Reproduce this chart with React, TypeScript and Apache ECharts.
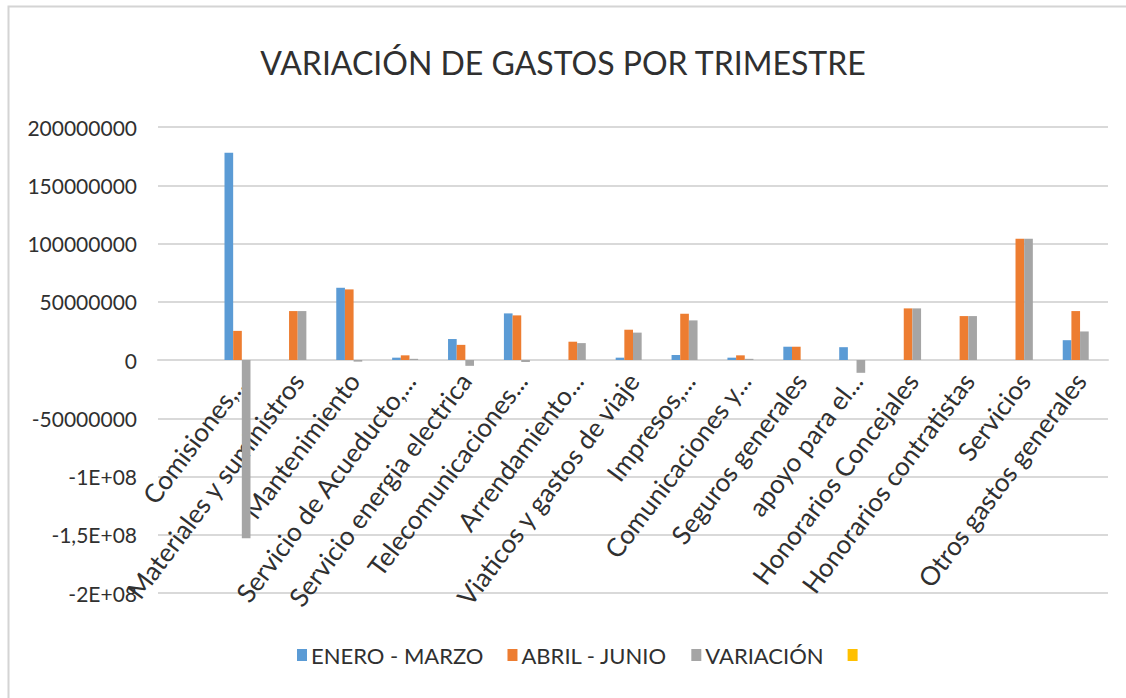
import React, { useEffect, useRef } from "react";
import * as echarts from "echarts";

const categories = [
  "",
  "Comisiones,...",
  "Materiales y suministros",
  "Mantenimiento",
  "Servicio de Acueducto,...",
  "Servicio energia electrica",
  "Telecomunicaciones...",
  "Arrendamiento...",
  "Viaticos y gastos de viaje",
  "Impresos,...",
  "Comunicaciones y...",
  "Seguros generales",
  "apoyo para el...",
  "Honorarios Concejales",
  "Honorarios contratistas",
  "Servicios",
  "Otros gastos generales",
];

const eneroMarzo = [null, 178e6, 0, 62e6, 2e6, 18e6, 40e6, 0, 2e6, 4.3e6, 2e6, 11.4e6, 11e6, 0, 0, 0, 17e6];
const abrilJunio = [null, 25e6, 42e6, 60.6e6, 4e6, 13e6, 38.3e6, 15.7e6, 26e6, 39.7e6, 4e6, 11.4e6, 0, 44.3e6, 37.7e6, 104e6, 42e6];
const variacion = [null, -153e6, 42e6, -1.4e6, 1e6, -5e6, -1.7e6, 14.5e6, 23.5e6, 34e6, 1e6, 0, -11e6, 44.3e6, 37.7e6, 104e6, 24.5e6];
const serie4: (number | null)[] = categories.map(() => null);

const yTickValues = [200e6, 150e6, 100e6, 50e6, 0, -50e6, -100e6, -150e6, -200e6];
const yTickLabels = ["200000000", "150000000", "100000000", "50000000", "0", "-50000000", "-1E+08", "-1,5E+08", "-2E+08"];

const FONT = "Lato, 'Open Sans', sans-serif";
const GRID_TOP = 127;
const GRID_BOTTOM = 105;
const CHART_H = 698;
const Y_MIN = -200e6;
const Y_MAX = 200e6;

export default function App() {
  const ref = useRef<HTMLDivElement>(null);
  useEffect(() => {
    document.body.style.margin = "0";
    const chart = echarts.init(ref.current!, undefined, { renderer: "svg" });
    const plotH = CHART_H - GRID_TOP - GRID_BOTTOM;
    // distance from grid bottom to the zero line, so that the category axis sits on zero
    const zeroOffset = (plotH * (0 - Y_MIN)) / (Y_MAX - Y_MIN);
    chart.setOption({
      animation: false,
      backgroundColor: "#ffffff",
      textStyle: { fontFamily: FONT },
      title: {
        text: "VARIACIÓN DE GASTOS POR TRIMESTRE",
        left: "center",
        top: 41,
        textStyle: { fontFamily: FONT, fontSize: 32, fontWeight: "normal", color: "#303030" },
      },
      graphic: [
        {
          type: "rect",
          shape: { x: 8.5, y: 6.5, width: 1130, height: 700 },
          style: { fill: "none", stroke: "#d4d4d4", lineWidth: 2 },
          silent: true,
        },
      ],
      legend: {
        left: 292,
        top: 639,
        itemWidth: 10,
        itemHeight: 12,
        itemGap: 24,
        icon: "rect",
        textStyle: { fontFamily: FONT, fontSize: 22, color: "#303030", padding: [0, 0, 0, -1] },
        data: ["ENERO - MARZO", "ABRIL - JUNIO", "VARIACIÓN", " "],
      },
      grid: {
        left: 158,
        right: 18,
        top: GRID_TOP,
        bottom: GRID_BOTTOM,
        containLabel: false,
        outerBoundsMode: "none",
      },
      xAxis: {
        type: "category",
        data: categories,
        position: "bottom",
        offset: -zeroOffset,
        axisLine: { show: true, onZero: false, lineStyle: { color: "#d9d9d9", width: 2 } },
        axisTick: { show: false },
        axisLabel: {
          interval: 0,
          rotate: 53,
          fontSize: 26,
          color: "#303030",
          fontFamily: FONT,
          margin: 16,
          hideOverlap: false,
        },
      },
      yAxis: {
        type: "value",
        min: Y_MIN,
        max: Y_MAX,
        interval: 50e6,
        axisLine: { show: false },
        axisTick: { show: false },
        splitLine: { lineStyle: { color: "#d9d9d9", width: 2 } },
        axisLabel: {
          fontSize: 21,
          color: "#303030",
          fontFamily: FONT,
          margin: 21,
          formatter: (v: number) => {
            const i = yTickValues.findIndex((t) => Math.abs(t - v) < 1);
            return i >= 0 ? yTickLabels[i] : String(v);
          },
        },
      },
      series: [
        { name: "ENERO - MARZO", type: "bar", data: eneroMarzo, itemStyle: { color: "#5B9BD5" }, barGap: "0%", barCategoryGap: "38%" },
        { name: "ABRIL - JUNIO", type: "bar", data: abrilJunio, itemStyle: { color: "#ED7D31" }, barGap: "0%", barCategoryGap: "38%" },
        { name: "VARIACIÓN", type: "bar", data: variacion, itemStyle: { color: "#A5A5A5" }, barGap: "0%", barCategoryGap: "38%" },
        { name: " ", type: "bar", data: serie4, itemStyle: { color: "#FFC000" }, barGap: "0%", barCategoryGap: "38%" },
      ],
    });
    return () => chart.dispose();
  }, []);
  return <div ref={ref} style={{ width: 1126, height: 698 }} />;
}
